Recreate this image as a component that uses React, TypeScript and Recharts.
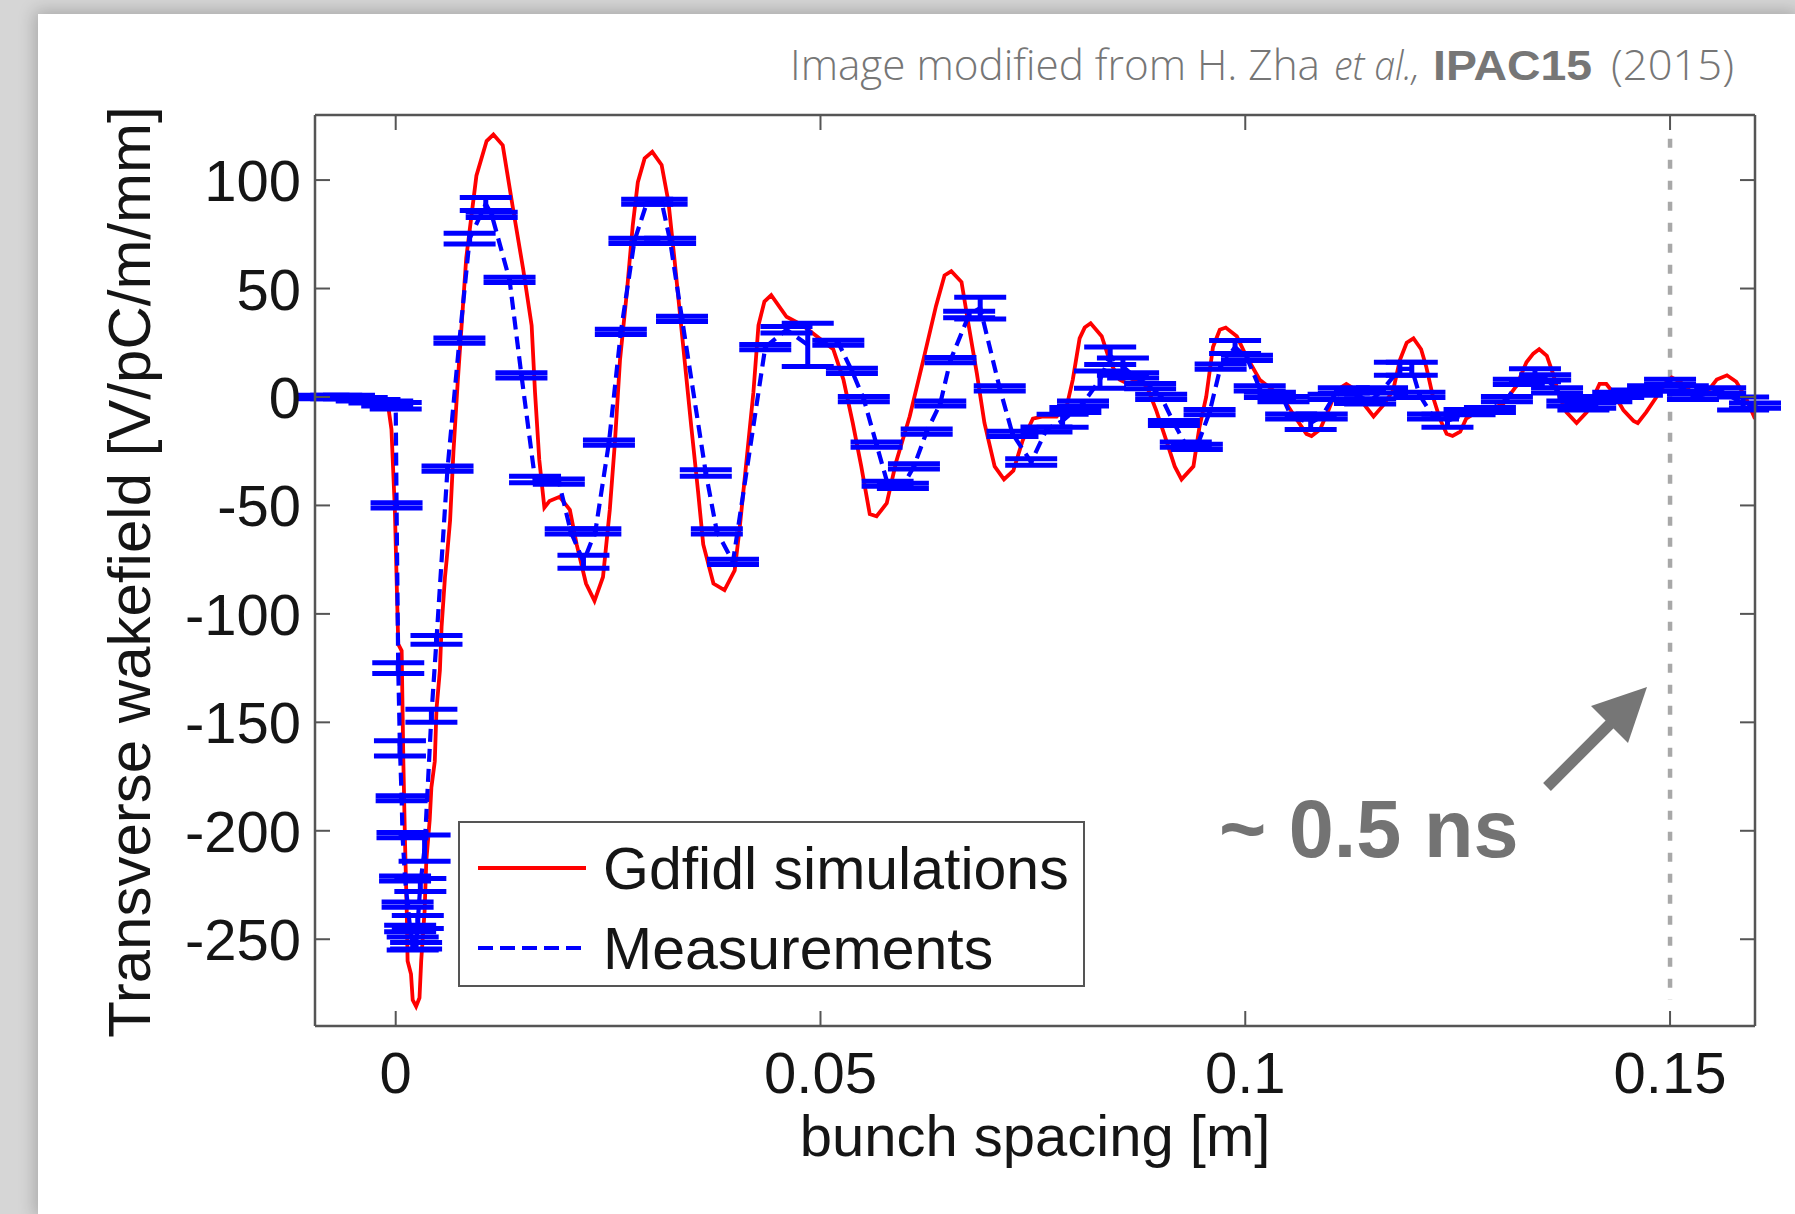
import { ComposedChart, Line, XAxis, YAxis, ErrorBar, ReferenceLine, Legend, Label } from "recharts";

// Gdfidl simulation (red curve)
const simX = [
  -0.0095, -0.002, -0.001, -0.0005, -0.0001, 0.0003, 0.0007, 0.0009, 0.0011, 0.0013,
  0.0014, 0.0018, 0.002, 0.0024, 0.0028, 0.003, 0.0034, 0.0036, 0.004, 0.0042,
  0.0046, 0.0048, 0.0052, 0.0054, 0.0058, 0.006, 0.0064, 0.0068, 0.0073, 0.0083,
  0.0095, 0.0107, 0.0115, 0.0126, 0.0138, 0.015, 0.016, 0.0164, 0.0169, 0.0175,
  0.0181, 0.0193, 0.0205, 0.0213, 0.0224, 0.0234, 0.0244, 0.0252, 0.0258, 0.0264,
  0.0272, 0.0279, 0.0285, 0.0293, 0.0302, 0.0313, 0.0321, 0.0328, 0.0338, 0.0348,
  0.0356, 0.0362, 0.0374, 0.0387, 0.0399, 0.0405, 0.0413, 0.0421, 0.0427, 0.0434,
  0.0442, 0.046, 0.0479, 0.0499, 0.0515, 0.0527, 0.0538, 0.0548, 0.0558, 0.0566,
  0.0578, 0.0589, 0.0605, 0.0621, 0.0636, 0.0646, 0.0654, 0.0666, 0.0674, 0.0684,
  0.0693, 0.0705, 0.0716, 0.0727, 0.0738, 0.075, 0.0762, 0.0778, 0.079, 0.0797,
  0.0805, 0.0811, 0.0818, 0.0831, 0.0841, 0.0852, 0.0862, 0.0872, 0.0884, 0.0895,
  0.0907, 0.0917, 0.0925, 0.0939, 0.0946, 0.0954, 0.0962, 0.097, 0.0977, 0.099,
  0.1001, 0.1017, 0.1033, 0.1045, 0.106, 0.1072, 0.1078, 0.1088, 0.1098, 0.1107,
  0.1119, 0.1131, 0.1141, 0.1151, 0.1162, 0.1174, 0.1182, 0.119, 0.1198, 0.1207,
  0.1213, 0.1221, 0.1229, 0.1237, 0.1244, 0.1253, 0.126, 0.1272, 0.1288, 0.1304,
  0.1319, 0.1331, 0.1339, 0.1346, 0.1355, 0.1362, 0.137, 0.1378, 0.139, 0.1402,
  0.141, 0.1417, 0.1425, 0.1433, 0.1445, 0.1457, 0.1462, 0.1472, 0.1484, 0.1496,
  0.1502, 0.1512, 0.1523, 0.1533, 0.1543, 0.1555, 0.1567, 0.1578, 0.159, 0.16,
];
const simV = [
  0, 0, -1, -15, -52, -114, -117, -168, -206, -237,
  -260, -266, -278, -281, -277, -260, -237, -214, -195, -180,
  -168, -144, -126, -106, -83, -75, -57, -25, 7, 64,
  102, 118, 121, 116, 87, 59, 33, 2, -29, -51,
  -48, -46, -52, -68, -86, -94, -83, -52, -21, 17,
  48, 79, 99, 110, 113, 107, 90, 64, 25, -14,
  -44, -68, -86, -89, -80, -60, -29, 2, 33, 44,
  47, 37, 33, 27, 22, 8, -12, -32, -54, -55,
  -49, -30, -9, 17, 42, 56, 58, 53, 34, 11,
  -12, -32, -38, -34, -20, -10, -9, -9, -4, 8,
  27, 32, 34, 28, 16, 8, 6, 8, 5, -6,
  -20, -32, -38, -32, -14, 0, 23, 31, 32, 28,
  19, 8, 3, -1, -10, -17, -18, -15, -6, 3,
  6, 3, -4, -9, -4, 3, 17, 25, 27, 22,
  14, 0, -10, -17, -18, -16, -10, -7, -6, -3,
  5, 16, 20, 22, 19, 11, 0, -7, -12, -7,
  0, 6, 6, 2, -6, -11, -12, -7, 0, 7,
  9, 7, 3, 0, 2, 8, 10, 7, -1, -10,
];

// Measurements (blue, with error bars)
const measX = [
  -0.0085, -0.007, -0.0055, -0.004, -0.0025, -0.001, 0, 0.0001, 0.0003, 0.0005,
  0.0007, 0.0008, 0.0011, 0.0014, 0.0017, 0.002, 0.0024, 0.0026, 0.0029, 0.0034,
  0.0042, 0.0048, 0.0061, 0.0075, 0.0087, 0.0106, 0.0113, 0.0134, 0.0148, 0.0164,
  0.0192, 0.0206, 0.0221, 0.0235, 0.0251, 0.0265, 0.0281, 0.0296, 0.0313, 0.0323,
  0.0337, 0.0365, 0.0378, 0.0397, 0.0435, 0.046, 0.0485, 0.0521, 0.0537, 0.0551,
  0.0566, 0.0579, 0.0597, 0.061, 0.0625, 0.0641, 0.0653, 0.0675, 0.0688, 0.0711,
  0.0726, 0.0748, 0.0766, 0.0785, 0.08, 0.0809, 0.0829, 0.0841, 0.0856, 0.0868,
  0.0888, 0.0901, 0.0916, 0.093, 0.0943, 0.0958, 0.0971, 0.0988, 0.1002, 0.1017,
  0.1029, 0.1045, 0.1054, 0.1077, 0.109, 0.1104, 0.1116, 0.1135, 0.1147, 0.1161,
  0.1182, 0.1196, 0.1205, 0.1221, 0.1238, 0.1264, 0.1288, 0.1308, 0.1322, 0.1341,
  0.1353, 0.1367, 0.1385, 0.1398, 0.1406, 0.1425, 0.1439, 0.1461, 0.148, 0.15,
  0.1515, 0.1527, 0.1559, 0.1586, 0.16,
];
const measV = [
  0, 0, 0, -1, -2, -3, -4, -50, -125, -162,
  -185, -202, -222, -234, -245, -252, -253, -242, -225, -208,
  -147, -112, -33, 26, 73, 89, 84, 54, 10, -38,
  -39, -62, -76, -62, -21, 30, 72, 90, 90, 72,
  36, -35, -62, -76, 23, 31, 24, 25, 12, -1,
  -22, -40, -41, -32, -16, -3, 17, 38, 41, 4,
  -17, -30, -15, -11, -6, -3, 8, 19, 14, 10,
  5, 0, -12, -22, -23, -7, 14, 23, 18, 4,
  1, -1, -9, -12, -9, 0, 3, 0, -2, 3,
  13, 13, 1, -9, -11, -7, -6, -1, 7, 10,
  9, 3, -3, -3, -4, -1, 1, 2, 4, 7,
  4, 0, 3, -3, -4,
];
const measErr = [
  0.8, 0.8, 0.8, 0.8, 0.8, 1.2, 1.5, 1.2, 2.5, 3.5,
  1.2, 1.2, 1.2, 1.2, 1.5, 3, 1.5, 3, 3, 6,
  3, 2, 1.2, 1.2, 2.5, 3, 1.2, 1.2, 1.2, 1.5,
  1.2, 1.2, 3, 1.2, 1.2, 1.2, 1.2, 1.2, 1.2, 1.2,
  1.2, 1.5, 1.2, 1.2, 1.2, 1.5, 10, 1.2, 1.2, 1.2,
  1.2, 1.2, 1.2, 1.2, 1.2, 1.2, 1.2, 1.5, 5, 1.2,
  1.2, 1.5, 1.2, 3, 1.2, 1.2, 4, 4, 4, 1.2,
  1.2, 1.2, 1.2, 1.2, 1.2, 1.2, 1.2, 3, 1.2, 1.2,
  1.2, 1.2, 1.2, 3, 1.2, 1.2, 1.2, 3, 1.2, 1.2,
  3, 3, 1.2, 1.2, 3, 1.2, 1.2, 1.2, 1.2, 3,
  1.2, 1.2, 1.2, 3, 1.2, 1.2, 1.2, 1.2, 1.2, 1.2,
  1.2, 1.2, 1.2, 3, 1.2,
];

const xTicks = [0, 0.05, 0.1, 0.15];
const xTickLabels = ["0", "0.05", "0.1", "0.15"];
const yTicks = [-250, -200, -150, -100, -50, 0, 50, 100];
const yTickLabels = ["-250", "-200", "-150", "-100", "-50", "0", "50", "100"];

const simData = simX.map((x, i) => ({ x, v: simV[i] }));
const measData = measX.map((x, i) => ({ x, v: measV[i], err: measErr[i] }));

const W = 1795;
const H = 1214;
const PL = 315;
const PR = 1755;
const PT = 115;
const PB = 1026;
const FONT = "'Liberation Sans', Arial, sans-serif";
const TFONT = "'Open Sans', sans-serif";
const FRAME = "#555";
const INK = "#151515";
const FS = 58;
const GREY = "#767676";

const BottomTick = (p: any) => {
  const i = xTicks.indexOf(p.payload.value);
  return (
    <g>
      <line x1={p.x} x2={p.x} y1={PB} y2={PB - 15} stroke={FRAME} strokeWidth={2} />
      <text x={p.x} y={PB + 67} textAnchor="middle" fontSize={FS} fontFamily={FONT} fill={INK}>
        {xTickLabels[i]}
      </text>
    </g>
  );
};

const TopTick = (p: any) => (
  <line x1={p.x} x2={p.x} y1={PT} y2={PT + 15} stroke={FRAME} strokeWidth={2} />
);

const LeftTick = (p: any) => {
  const i = yTicks.indexOf(p.payload.value);
  return (
    <g>
      <line x1={PL} x2={PL + 15} y1={p.y} y2={p.y} stroke={FRAME} strokeWidth={2} />
      <text x={PL - 14} y={p.y + 21} textAnchor="end" fontSize={FS} fontFamily={FONT} fill={INK}>
        {yTickLabels[i]}
      </text>
    </g>
  );
};

const RightTick = (p: any) => (
  <line x1={PR} x2={PR - 15} y1={p.y} y2={p.y} stroke={FRAME} strokeWidth={2} />
);

const LegendBox = () => (
  <svg width={627} height={166} style={{ display: "block" }}>
    <rect x={1} y={1} width={625} height={164} fill="#fff" stroke="#555" strokeWidth={2} />
    <line x1={20} x2={128} y1={47} y2={47} stroke="#ff0000" strokeWidth={3.8} />
    <text x={145} y={68} fontSize={59} fontFamily={FONT} fill={INK}>
      Gdfidl simulations
    </text>
    <line x1={20} x2={128} y1={127} y2={127} stroke="#0000ff" strokeWidth={4} strokeDasharray="15 7" />
    <text x={145} y={148} fontSize={59} fontFamily={FONT} fill={INK}>
      Measurements
    </text>
  </svg>
);

export default function App() {
  return (
    <div style={{ position: "absolute", left: 0, top: 0, width: W, height: H, background: "#d6d6d6", overflow: "hidden" }}>
      <style>{`[class*="errorBar"] line { stroke-width: 5px !important; }`}</style>
      <div
        style={{
          position: "absolute",
          left: 38,
          top: 14,
          width: W - 38,
          height: H - 14,
          background: "#fff",
          boxShadow: "0 0 16px 3px rgba(0,0,0,0.22)",
        }}
      />
      <div style={{ position: "absolute", left: 0, top: 0 }}>
        <ComposedChart width={W} height={H} margin={{ top: 100, right: 0, bottom: 128, left: 255 }}>
          <XAxis
            xAxisId="b"
            type="number"
            dataKey="x"
            domain={[-0.0095, 0.16]}
            ticks={xTicks}
            interval={0}
            allowDataOverflow
            height={60}
            axisLine={{ stroke: FRAME, strokeWidth: 2.5 }}
            tickLine={false}
            tick={BottomTick}
          >
            <Label
              content={() => (
                <text x={1035} y={1156} textAnchor="middle" fontSize={FS} fontFamily={FONT} fill={INK}>
                  bunch spacing [m]
                </text>
              )}
            />
          </XAxis>
          <XAxis
            xAxisId="t"
            orientation="top"
            type="number"
            dataKey="x"
            domain={[-0.0095, 0.16]}
            ticks={xTicks}
            interval={0}
            allowDataOverflow
            height={15}
            axisLine={{ stroke: FRAME, strokeWidth: 2.5 }}
            tickLine={false}
            tick={TopTick}
          />
          <YAxis
            yAxisId="l"
            type="number"
            domain={[-290, 130]}
            ticks={yTicks}
            interval={0}
            allowDataOverflow
            width={60}
            axisLine={{ stroke: FRAME, strokeWidth: 2.5 }}
            tickLine={false}
            tick={LeftTick}
          >
            <Label
              content={() => (
                <text
                  x={150}
                  y={572}
                  transform="rotate(-90, 150, 572)"
                  textAnchor="middle"
                  fontSize={60}
                  fontFamily={FONT}
                  fill={INK}
                >
                  Transverse wakefield [V/pC/m/mm]
                </text>
              )}
            />
          </YAxis>
          <YAxis
            yAxisId="r"
            orientation="right"
            type="number"
            domain={[-290, 130]}
            ticks={yTicks}
            interval={0}
            allowDataOverflow
            width={40}
            axisLine={{ stroke: FRAME, strokeWidth: 2.5 }}
            tickLine={false}
            tick={RightTick}
          />
          <ReferenceLine
            xAxisId="b"
            yAxisId="l"
            segment={[{ x: 0.15, y: 119 }, { x: 0.15, y: -278 }]}
            stroke="#a8a8a8"
            strokeWidth={4.5}
            strokeDasharray="9 12"
          />
          <Line
            xAxisId="b"
            yAxisId="l"
            data={simData}
            dataKey="v"
            type="linear"
            stroke="#ff0000"
            strokeWidth={3.8}
            dot={false}
            isAnimationActive={false}
          />
          <Line
            xAxisId="b"
            yAxisId="l"
            data={measData}
            dataKey="v"
            type="linear"
            stroke="#0000ff"
            strokeWidth={4.2}
            strokeDasharray="13 7"
            dot={false}
            isAnimationActive={false}
          >
            <ErrorBar dataKey="err" direction="y" width={26} strokeWidth={5} stroke="#0000ff" isAnimationActive={false} />
          </Line>
          <Legend
            layout="horizontal"
            verticalAlign="middle"
            align="center"
            content={LegendBox}
            wrapperStyle={{ left: 458, top: 821, width: 627, height: 166 }}
          />
        </ComposedChart>
      </div>
      <svg width={W} height={H} style={{ position: "absolute", left: 0, top: 0, pointerEvents: "none" }}>
        <text x={790} y={80} fontSize={43} fontFamily={TFONT} fontWeight={300} fill={GREY} textLength={530} lengthAdjust="spacingAndGlyphs">
          Image modified from H. Zha
        </text>
        <text x={1334} y={80} fontSize={40} fontFamily={TFONT} fontWeight={300} fontStyle="italic" fill={GREY} textLength={86} lengthAdjust="spacingAndGlyphs">
          et al.,
        </text>
        <text x={1433} y={80} fontSize={42} fontFamily={FONT} fontWeight={700} fill={GREY} textLength={159} lengthAdjust="spacingAndGlyphs">
          IPAC15
        </text>
        <text x={1611} y={80} fontSize={43} fontFamily={TFONT} fontWeight={300} fill={GREY} textLength={123} lengthAdjust="spacingAndGlyphs">
          (2015)
        </text>
        <text x={1219} y={857} fontSize={81} fontWeight={700} fontFamily={FONT} fill="#737373">
          ~ 0.5 ns
        </text>
        <line x1={1547} y1={787} x2={1612} y2={722} stroke={GREY} strokeWidth={11} />
        <polygon points="1647,687 1591,706 1628,743" fill={GREY} />
      </svg>
    </div>
  );
}
